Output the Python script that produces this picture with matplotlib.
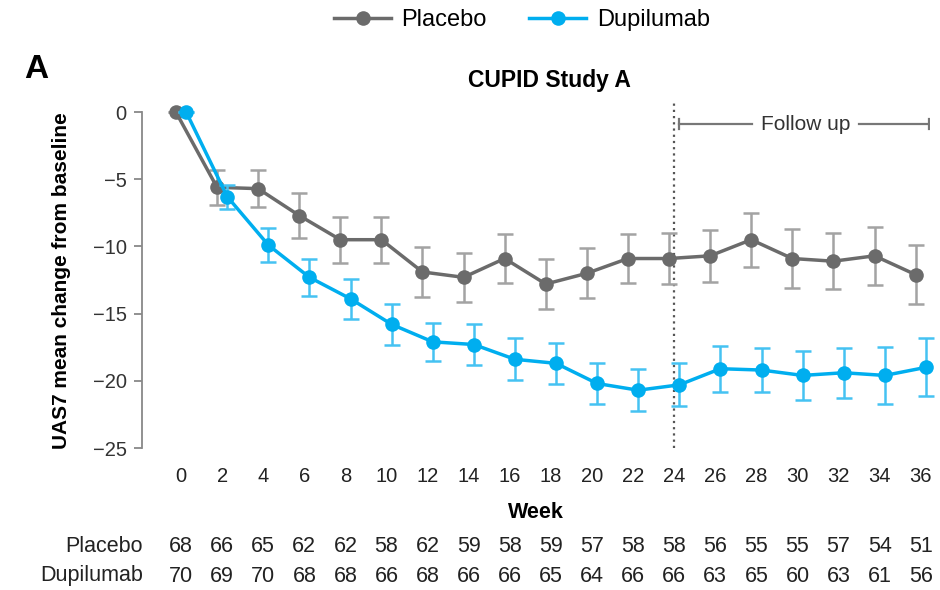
import matplotlib
matplotlib.use("Agg")
import matplotlib.pyplot as plt
import matplotlib.transforms as mtransforms
import numpy as np

plt.rcParams['font.family'] = ['Liberation Sans', 'DejaVu Sans']

weeks = [0, 2, 4, 6, 8, 10, 12, 14, 16, 18, 20, 22, 24, 26, 28, 30, 32, 34, 36]

placebo_mean = [0, -5.6, -5.7, -7.7, -9.5, -9.5, -11.9, -12.3, -10.9, -12.8, -12.0,
                -10.9, -10.9, -10.7, -9.5, -10.9, -11.1, -10.7, -12.1]
placebo_se = [0, 1.3, 1.35, 1.7, 1.7, 1.7, 1.85, 1.8, 1.85, 1.85, 1.85,
              1.85, 1.9, 1.95, 2.0, 2.2, 2.1, 2.15, 2.2]

dupilumab_mean = [0, -6.3, -9.9, -12.3, -13.9, -15.8, -17.1, -17.3, -18.4, -18.7, -20.2,
                  -20.7, -20.3, -19.1, -19.2, -19.6, -19.4, -19.6, -19.0]
dupilumab_se = [0, 0.9, 1.25, 1.4, 1.5, 1.5, 1.4, 1.5, 1.55, 1.55, 1.55,
                1.55, 1.6, 1.7, 1.65, 1.85, 1.85, 2.1, 2.15]

placebo_n = [68, 66, 65, 62, 62, 58, 62, 59, 58, 59, 57, 58, 58, 56, 55, 55, 57, 54, 51]
dupilumab_n = [70, 69, 70, 68, 68, 66, 68, 66, 66, 65, 64, 66, 66, 63, 65, 60, 63, 61, 56]

y_ticks = [0, -5, -10, -15, -20, -25]

GRAY = "#6b6b6b"
GRAY_ERR = "#a3a3a3"
BLUE = "#00aeef"
BLUE_ERR = "#45c2f2"
AXIS = "#888888"
TEXT = "#222222"

W, H = 940, 590
fig = plt.figure(figsize=(W / 100, H / 100), dpi=100)
ax = fig.add_axes([142 / W, 1 - 448 / H, 788 / W, (448 - 98.6) / H])

x = np.array(weeks, dtype=float)
offset = 0.25

ax.errorbar(x - offset, placebo_mean, yerr=placebo_se, fmt="none", ecolor=GRAY_ERR,
            elinewidth=1.8, capsize=5.5, capthick=1.8, zorder=2, clip_on=False)
ax.plot(x - offset, placebo_mean, color=GRAY, lw=2.5, marker="o", ms=10.5,
        markeredgewidth=0, zorder=3, label="Placebo", clip_on=False)

ax.errorbar(x + offset, dupilumab_mean, yerr=dupilumab_se, fmt="none", ecolor=BLUE_ERR,
            elinewidth=1.8, capsize=5.5, capthick=1.8, zorder=4, clip_on=False)
ax.plot(x + offset, dupilumab_mean, color=BLUE, lw=2.5, marker="o", ms=10.5,
        markeredgewidth=0, zorder=5, label="Dupilumab", clip_on=False)

ax.set_xlim(-1.9, 36.45)
ax.set_ylim(-25, 1.0)

for side in ("top", "right", "bottom"):
    ax.spines[side].set_visible(False)
ax.spines["left"].set_bounds(-25, 0)
ax.spines["left"].set_color(AXIS)
ax.spines["left"].set_linewidth(1.3)

ax.set_yticks(y_ticks)
ax.set_yticklabels([f"{v}".replace("-", "\u2212") for v in y_ticks])
ax.tick_params(axis="y", length=6, width=1.3, color=AXIS, labelsize=14.5,
               labelcolor="#333333", pad=5)
ax.set_xticks(weeks)
ax.tick_params(axis="x", length=0, labelsize=14.5, labelcolor=TEXT, pad=14)

ax.set_xlabel("Week", fontsize=15.5, fontweight="bold", labelpad=11)
ax.set_ylabel("UAS7 mean change from baseline", fontsize=15, fontweight="bold")
ax.yaxis.set_label_coords(-0.090, 0.48)

# end of treatment period
ax.plot([24, 24], [-25, 0.9], color="#555555", lw=1.6, ls=(0, (1, 1.8)), zorder=1)

# follow-up bracket
yb = -0.9
x0, x1 = 24.25, 36.4
ax.plot([x0, 27.8], [yb, yb], color="#777777", lw=1.6)
ax.plot([33.0, x1], [yb, yb], color="#777777", lw=1.6)
ax.plot([x0, x0], [yb - 0.35, yb + 0.35], color="#777777", lw=1.6)
ax.plot([x1, x1], [yb - 0.35, yb + 0.35], color="#777777", lw=1.6)
ax.text(30.4, yb, "Follow up", ha="center", va="center", fontsize=15, color="#333333")

fig.text(549 / W, 1 - 80 / H, "CUPID Study A", ha="center", va="center",
         fontsize=16.5, fontweight="bold")
fig.text(36 / W, 1 - 69 / H, "A", ha="center", va="center", fontsize=24,
         fontweight="bold")

fig.legend(loc="center", bbox_to_anchor=(522 / W, 1 - 20 / H), ncol=2,
           frameon=False, fontsize=17, handlelength=2.4, columnspacing=1.8,
           handletextpad=0.45)

# numbers at risk
trans = mtransforms.blended_transform_factory(ax.transData, fig.transFigure)
rows = [("Placebo", placebo_n, 546), ("Dupilumab", dupilumab_n, 576)]
for label, counts, ypx in rows:
    yf = 1 - ypx / H
    fig.text(143 / W, yf, label, ha="right", va="center", fontsize=15.5, color=TEXT)
    for wk, n in zip(weeks, counts):
        ax.text(wk, yf, str(n), transform=trans, ha="center", va="center",
                fontsize=15.5, color=TEXT)

fig.savefig("out.png", dpi=100)
